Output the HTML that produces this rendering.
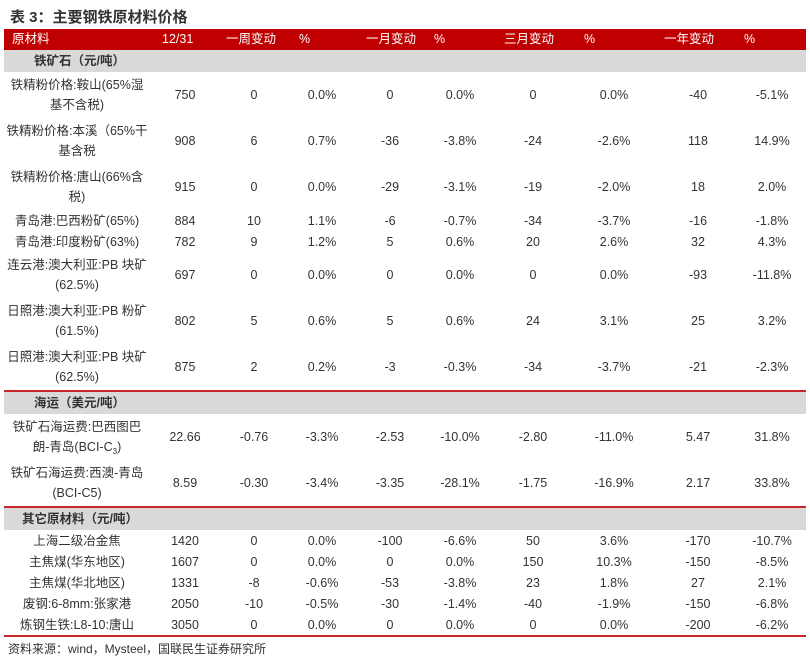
<!DOCTYPE html>
<html><head><meta charset="utf-8"><style>
body{margin:0;width:810px;height:660px;background:#fff;font-family:"Liberation Sans","Noto Sans CJK SC",sans-serif;color:#333;position:relative;overflow:hidden}
.title{position:absolute;left:10px;top:6px;font-size:15px;font-weight:bold;color:#333}
.hdr{position:absolute;left:4px;top:29px;width:802px;height:21px;background:#C00000;color:#fff;font-size:12.5px}
.hdr span{position:absolute;top:0;height:21px;line-height:21px;white-space:nowrap}
table{position:absolute;left:4px;top:50px;width:802px;border-collapse:collapse;table-layout:fixed;font-size:12.5px}
td{padding:0;text-align:center;vertical-align:middle;line-height:20px}
tr.sec td{background:#D9D9D9;font-weight:bold;height:22px;text-align:left}
tr.two td{height:46px}
tr.one td{height:21px}
tr.redbot td{border-bottom:2px solid #C8282C}
sub{font-size:8px;vertical-align:baseline;position:relative;top:3px;line-height:0}
.src{position:absolute;left:8px;top:640px;font-size:12px;color:#333}
</style></head><body>
<div class="title">表 3：主要钢铁原材料价格</div>
<div class="hdr">
<span style="left:8px">原材料</span><span style="left:158px">12/31</span><span style="left:222px">一周变动</span><span style="left:295px">%</span><span style="left:362px">一月变动</span><span style="left:430px">%</span><span style="left:500px">三月变动</span><span style="left:580px">%</span><span style="left:660px">一年变动</span><span style="left:740px">%</span>
</div>
<table>
<colgroup><col style="width:146px"><col style="width:70px"><col style="width:68px"><col style="width:68px"><col style="width:68px"><col style="width:72px"><col style="width:74px"><col style="width:88px"><col style="width:80px"><col style="width:68px"></colgroup>
<tr class="sec"><td colspan="10" style="padding-left:30px">铁矿石（元/吨）</td></tr>
<tr class="two"><td>铁精粉价格:鞍山(65%湿<br>基不含税)</td><td>750</td><td>0</td><td>0.0%</td><td>0</td><td>0.0%</td><td>0</td><td>0.0%</td><td>-40</td><td>-5.1%</td></tr>
<tr class="two"><td>铁精粉价格:本溪（65%干<br>基含税</td><td>908</td><td>6</td><td>0.7%</td><td>-36</td><td>-3.8%</td><td>-24</td><td>-2.6%</td><td>118</td><td>14.9%</td></tr>
<tr class="two"><td>铁精粉价格:唐山(66%含<br>税)</td><td>915</td><td>0</td><td>0.0%</td><td>-29</td><td>-3.1%</td><td>-19</td><td>-2.0%</td><td>18</td><td>2.0%</td></tr>
<tr class="one"><td>青岛港:巴西粉矿(65%)</td><td>884</td><td>10</td><td>1.1%</td><td>-6</td><td>-0.7%</td><td>-34</td><td>-3.7%</td><td>-16</td><td>-1.8%</td></tr>
<tr class="one"><td>青岛港:印度粉矿(63%)</td><td>782</td><td>9</td><td>1.2%</td><td>5</td><td>0.6%</td><td>20</td><td>2.6%</td><td>32</td><td>4.3%</td></tr>
<tr class="two"><td>连云港:澳大利亚:PB 块矿<br>(62.5%)</td><td>697</td><td>0</td><td>0.0%</td><td>0</td><td>0.0%</td><td>0</td><td>0.0%</td><td>-93</td><td>-11.8%</td></tr>
<tr class="two"><td>日照港:澳大利亚:PB 粉矿<br>(61.5%)</td><td>802</td><td>5</td><td>0.6%</td><td>5</td><td>0.6%</td><td>24</td><td>3.1%</td><td>25</td><td>3.2%</td></tr>
<tr class="two redbot"><td>日照港:澳大利亚:PB 块矿<br>(62.5%)</td><td>875</td><td>2</td><td>0.2%</td><td>-3</td><td>-0.3%</td><td>-34</td><td>-3.7%</td><td>-21</td><td>-2.3%</td></tr>
<tr class="sec"><td colspan="10" style="padding-left:30px">海运（美元/吨）</td></tr>
<tr class="two"><td>铁矿石海运费:巴西图巴<br>朗-青岛(BCI-C<sub>3</sub>)</td><td>22.66</td><td>-0.76</td><td>-3.3%</td><td>-2.53</td><td>-10.0%</td><td>-2.80</td><td>-11.0%</td><td>5.47</td><td>31.8%</td></tr>
<tr class="two redbot"><td>铁矿石海运费:西澳-青岛<br>(BCI-C5)</td><td>8.59</td><td>-0.30</td><td>-3.4%</td><td>-3.35</td><td>-28.1%</td><td>-1.75</td><td>-16.9%</td><td>2.17</td><td>33.8%</td></tr>
<tr class="sec"><td colspan="10" style="padding-left:18px">其它原材料（元/吨）</td></tr>
<tr class="one"><td>上海二级冶金焦</td><td>1420</td><td>0</td><td>0.0%</td><td>-100</td><td>-6.6%</td><td>50</td><td>3.6%</td><td>-170</td><td>-10.7%</td></tr>
<tr class="one"><td>主焦煤(华东地区)</td><td>1607</td><td>0</td><td>0.0%</td><td>0</td><td>0.0%</td><td>150</td><td>10.3%</td><td>-150</td><td>-8.5%</td></tr>
<tr class="one"><td>主焦煤(华北地区)</td><td>1331</td><td>-8</td><td>-0.6%</td><td>-53</td><td>-3.8%</td><td>23</td><td>1.8%</td><td>27</td><td>2.1%</td></tr>
<tr class="one"><td>废钢:6-8mm:张家港</td><td>2050</td><td>-10</td><td>-0.5%</td><td>-30</td><td>-1.4%</td><td>-40</td><td>-1.9%</td><td>-150</td><td>-6.8%</td></tr>
<tr class="one redbot"><td>炼钢生铁:L8-10:唐山</td><td>3050</td><td>0</td><td>0.0%</td><td>0</td><td>0.0%</td><td>0</td><td>0.0%</td><td>-200</td><td>-6.2%</td></tr>
</table>
<div class="src">资料来源：wind，Mysteel，国联民生证券研究所</div>
</body></html>
